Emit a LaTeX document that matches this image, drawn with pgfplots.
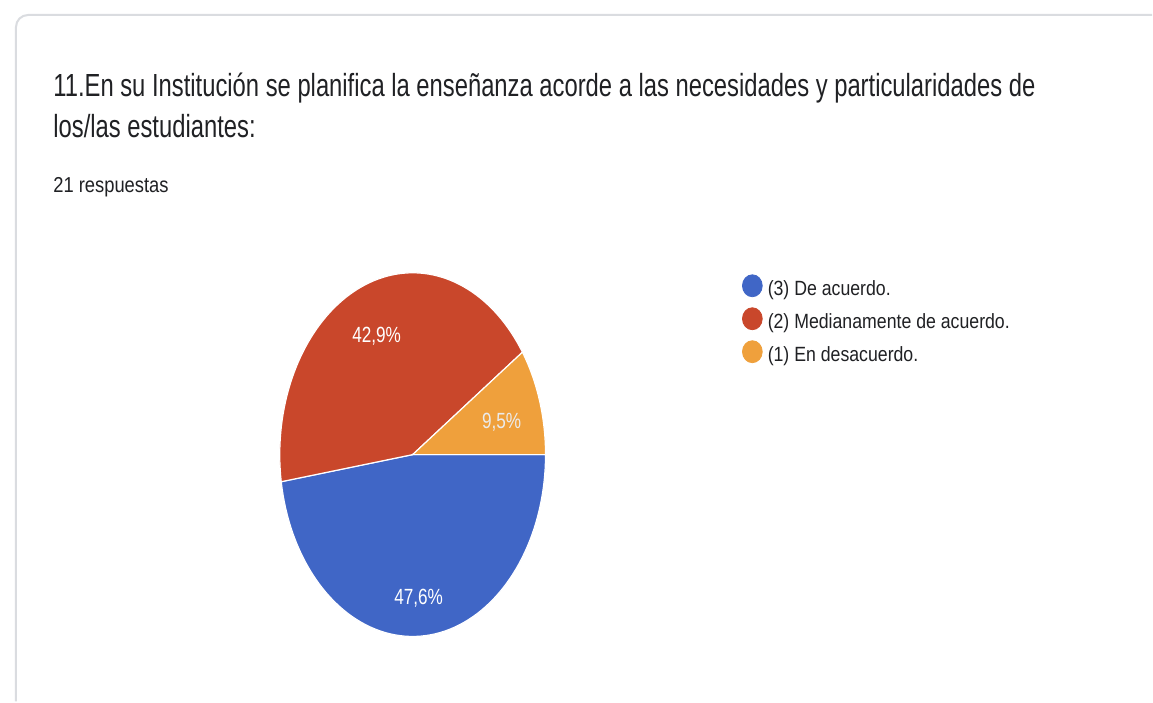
\documentclass[border=0pt]{standalone}
\usepackage{fontspec}
\setmainfont{Liberation Sans}
\newfontfamily\titlefont[FakeStretch=0.744]{Liberation Sans}
\newfontfamily\subfont[FakeStretch=0.85]{Liberation Sans}
\newfontfamily\legfont[FakeStretch=0.86]{Liberation Sans}
\newfontfamily\piefont[FakeStretch=0.78]{Liberation Sans}
\usepackage{pgfplots}
\pgfplotsset{compat=1.18}
\usepackage{pgfplotstable}

\definecolor{cblue}{HTML}{4066C6}
\definecolor{cred}{HTML}{C9472B}
\definecolor{corange}{HTML}{EFA03C}
\definecolor{ctext}{HTML}{202124}
\definecolor{cborder}{HTML}{DADCE0}

% responses per answer (21 in total)
\pgfplotstableread{
answer count
3 10
2 9
1 2
}\responses

\pgfplotstablegetelem{0}{count}\of\responses \let\nA\pgfplotsretval
\pgfplotstablegetelem{1}{count}\of\responses \let\nB\pgfplotsretval
\pgfplotstablegetelem{2}{count}\of\responses \let\nC\pgfplotsretval
\pgfmathsetmacro{\ntot}{\nA+\nB+\nC}
\pgfmathsetmacro{\aA}{360*\nA/\ntot}
\pgfmathsetmacro{\aB}{\aA+360*\nB/\ntot}

\begin{document}
\begin{tikzpicture}
\begin{axis}[
  at={(0,0)}, anchor=south west,
  scale only axis,
  width=576.5pt, height=351pt,
  xmin=0, xmax=1153, ymin=0, ymax=702,
  y dir=reverse,
  hide axis,
  clip=false,
]
% card background and edge
\path[fill=white] (axis cs:0,0) rectangle (axis cs:1153,702);
\draw[cborder, line width=1pt, rounded corners=6pt]
  (axis cs:16,702) -- (axis cs:16,15) -- (axis cs:1153,15);

% pie slices (ellipse: screenshot squeezed horizontally)
\addplot[fill=cblue, draw=white, line width=0.6pt, domain=0:\aA, samples=80]
  ({413+133*cos(x)},{455+182*sin(x)}) -- (axis cs:413,455) -- cycle;
\addplot[fill=cred, draw=white, line width=0.6pt, domain=\aA:\aB, samples=80]
  ({413+133*cos(x)},{455+182*sin(x)}) -- (axis cs:413,455) -- cycle;
\addplot[fill=corange, draw=white, line width=0.6pt, domain=\aB:360, samples=30]
  ({413+133*cos(x)},{455+182*sin(x)}) -- (axis cs:413,455) -- cycle;

% slice labels
\node[anchor=base, text=white, inner sep=0, font=\piefont\fontsize{11}{13}\selectfont]
  at (axis cs:419,605) {47,6\%};
\node[anchor=base, text=white, inner sep=0, font=\piefont\fontsize{11}{13}\selectfont]
  at (axis cs:377,343) {42,9\%};
\node[anchor=base, text=white!92!black, inner sep=0, font=\piefont\fontsize{11}{13}\selectfont]
  at (axis cs:502,429) {9,5\%};

% legend markers
\addplot[only marks, mark=*, mark size=5.5pt, mark options={xscale=0.9, fill=cblue, draw=cblue}]
  coordinates {(753,286)};
\addplot[only marks, mark=*, mark size=5.5pt, mark options={xscale=0.9, fill=cred, draw=cred}]
  coordinates {(753,319)};
\addplot[only marks, mark=*, mark size=5.5pt, mark options={xscale=0.9, fill=corange, draw=corange}]
  coordinates {(753,352)};
\node[anchor=base west, inner sep=0, text=ctext, font=\legfont\fontsize{10.3}{12}\selectfont]
  at (axis cs:768,296) {(3) De acuerdo.};
\node[anchor=base west, inner sep=0, text=ctext, font=\legfont\fontsize{10.3}{12}\selectfont]
  at (axis cs:768,329) {(2) Medianamente de acuerdo.};
\node[anchor=base west, inner sep=0, text=ctext, font=\legfont\fontsize{10.3}{12}\selectfont]
  at (axis cs:768,362) {(1) En desacuerdo.};

% title and response count
\node[anchor=base west, inner sep=0, text=ctext, font=\titlefont\fontsize{16}{18}\selectfont]
  at (axis cs:53,97) {11.En su Institución se planifica la enseñanza acorde a las necesidades y particularidades de};
\node[anchor=base west, inner sep=0, text=ctext, font=\titlefont\fontsize{16}{18}\selectfont]
  at (axis cs:53,137.5) {los/las estudiantes:};
\node[anchor=base west, inner sep=0, text=ctext, font=\subfont\fontsize{10.8}{12}\selectfont]
  at (axis cs:53,193) {21 respuestas};
\end{axis}
\end{tikzpicture}
\end{document}
